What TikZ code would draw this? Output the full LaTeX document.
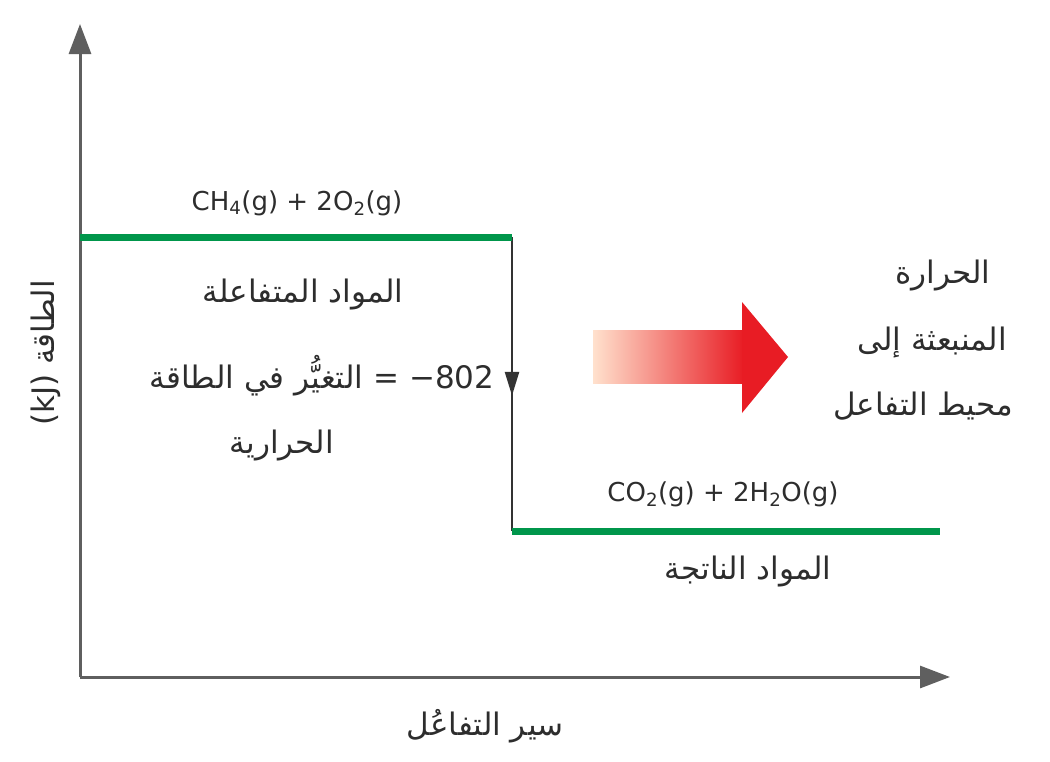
\documentclass[tikz,border=0pt]{standalone}
\usepackage{fontspec}
\setmainfont{Liberation Sans}
\newfontfamily\arabicfont[Script=Arabic]{DejaVu Sans}
\newfontfamily\dvlatin{DejaVu Sans}
\TeXXeTstate=1
\usetikzlibrary{arrows.meta,decorations.markings}
\definecolor{lvl}{RGB}{0,150,75}
\definecolor{axgray}{RGB}{95,95,95}
\definecolor{txt}{RGB}{45,45,45}
\definecolor{hotred}{RGB}{232,28,36}
\definecolor{paleheat}{RGB}{255,225,205}
\newcommand{\sbs}[1]{\textsubscript{#1}}
\begin{document}
\begin{tikzpicture}[x=1pt,y=-1pt,
  axis/.style={draw=axgray,line width=3pt,-{Triangle[length=30pt,width=22pt]}},
  level/.style={draw=lvl,line width=7pt},
  drop/.style={draw=black!80,line width=2.5pt,postaction={decorate},
    decoration={markings,mark=at position 0.54 with {\arrow{Triangle[length=24pt,width=14pt]}}}},
  chem/.style={text=txt,font=\dvlatin\fontsize{26}{30}\selectfont,inner sep=0pt},
  ar/.style={text=txt,font=\arabicfont\fontsize{31}{36}\selectfont,inner sep=0pt}]
\useasboundingbox (0,0) rectangle (1050,761);
\fill[white] (0,0) rectangle (1050,761);
% axes
\coordinate (O) at (80,677);
\coordinate (ytop) at (80,24);
\coordinate (xend) at (950,677);
\draw[axis] (O) -- (ytop);
\draw[axis] (O) -- (xend);
% levels
\coordinate (r0) at (80,237);
\coordinate (r1) at (512,237);
\coordinate (p0) at (512,531);
\coordinate (p1) at (940,531);
\draw[drop] (r1) -- (p0);
\draw[level] (r0) -- (r1);
\draw[level] (p0) -- (p1);
% heat arrow
\shade[left color=paleheat,right color=hotred]
  (593,330) -- (744,330) -- (744,383) -- (593,383) -- cycle;
\fill[hotred] (742,302) -- (788,357) -- (742,413) -- cycle;
% labels
\node[chem] (reac) at (297,203) {CH\sbs{4}(g) + 2O\sbs{2}(g)};
\node[chem] (prod) at (723,494) {CO\sbs{2}(g) + 2H\sbs{2}O(g)};
\node[ar] (reacname) at (303,295) {\beginR المواد المتفاعلة\endR};
\node[ar] (dh) at (322,376) {\beginR \beginL{\dvlatin −802}\endL{} = التغيُّر في الطاقة\endR};
\node[ar] (dh2) at (282,446) {\beginR الحرارية\endR};
\node[ar] (prodname) at (748,571) {\beginR المواد الناتجة\endR};
\node[ar] (heat1) at (943,276) {\beginR الحرارة\endR};
\node[ar] (heat2) at (932,343) {\beginR المنبعثة إلى\endR};
\node[ar] (heat3) at (923,406) {\beginR محيط التفاعل\endR};
\node[ar,rotate=90] (ylab) at (46,353) {\beginR الطاقة \beginL{\dvlatin (kJ)}\endL\endR};
\node[ar] (xlab) at (485,726) {\beginR سير التفاعُل\endR};
\end{tikzpicture}
\end{document}
